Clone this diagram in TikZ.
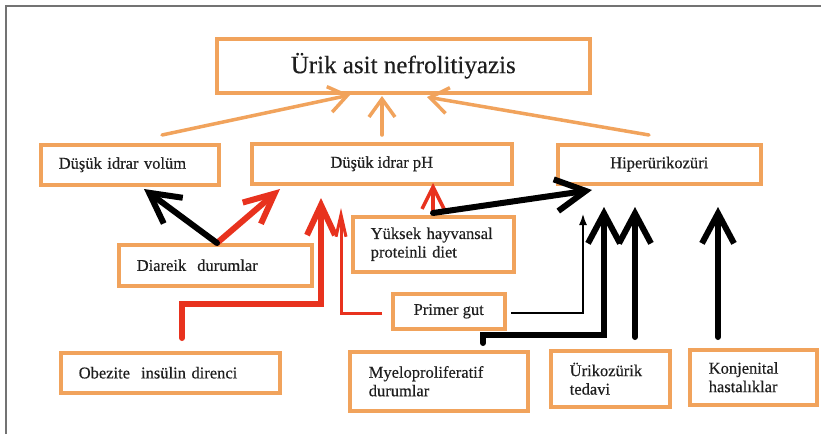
\documentclass[tikz,border=0pt]{standalone}
\usepackage{fontspec}
\setmainfont{Liberation Serif}[FakeBold=0.35]
\usetikzlibrary{arrows.meta}
\definecolor{boxorange}{RGB}{241,163,92}
\definecolor{flowred}{RGB}{232,50,30}
\definecolor{txt}{RGB}{30,30,30}
\definecolor{framegray}{RGB}{115,115,115}

\begin{document}
\begin{tikzpicture}[x=1pt,y=-1pt,
  box/.style={draw=boxorange, line width=3.5pt, fill=white, inner ysep=0pt,
    anchor=north west, text=txt, font=\fontsize{16.5}{18.5}\selectfont},
  cbox/.style={box, inner xsep=0pt, align=center},
  lbox/.style={box, inner xsep=18pt, align=left},
  oarrow/.style={draw=boxorange, line width=3.5pt, line cap=round,
    -{Straight Barb[length=18pt,width=26pt]}},
  barrow/.style={draw=black, line width=6pt, line cap=round, line join=miter,
    -{Straight Barb[length=30pt,width=32pt]}},
  rarrow/.style={draw=flowred, line width=6pt, line cap=round, line join=miter,
    -{Straight Barb[length=30pt,width=28pt]}},
  rthin/.style={draw=flowred, line width=3.5pt, line join=miter,
    -{Straight Barb[length=22pt,width=22pt]}},
  bthin/.style={draw=black, line width=2.5pt, line join=miter,
    -{Latex[length=12pt,width=8pt]}}]

\useasboundingbox (0,0) rectangle (821,434);
\fill[white] (0,0) rectangle (821,434);

% frame
\draw[framegray, line width=1.6pt] (6,434) -- (6,6) -- (821,6);

% boxes
\node[cbox, minimum width=373pt, minimum height=54pt,
      font=\fontsize{25}{28}\selectfont] (title) at (215,37) {Ürik asit nefrolitiyazis};

\node[lbox, text width=142pt, minimum height=40pt] (vol) at (39,143) {Düşük idrar volüm};
\node[cbox, minimum width=260pt, minimum height=40pt] (ph) at (250,142) {Düşük idrar pH};
\node[cbox, minimum width=203pt, minimum height=39pt] (hyp) at (556,143) {Hiperürikozüri};

\node[lbox, text width=157pt, minimum height=41pt] (dia) at (117,243) {Diareik\ \ durumlar};
\node[lbox, text width=125pt, minimum height=55pt] (yuk) at (351,215) {Yüksek hayvansal\\proteinli diet};
\node[cbox, minimum width=112pt, minimum height=35pt] (gut) at (391,292) {Primer gut};

\node[lbox, text width=183pt, minimum height=40pt] (obe) at (59,351) {Obezite\ \ insülin direnci};
\node[lbox, inner xsep=19pt, text width=140pt, minimum height=59pt] (mye) at (348,350) {Myeloproliferatif\\durumlar};
\node[lbox, inner xsep=19pt, text width=81pt, minimum height=56pt] (uri) at (549,349) {Ürikozürik\\tedavi};
\node[lbox, inner xsep=19pt, text width=89pt, minimum height=55pt] (kon) at (688,348) {Konjenital\\hastalıklar};

% connector points
\coordinate (oL) at (162,135); \coordinate (oLt) at (350,95);
\coordinate (oM) at (382,135); \coordinate (oMt) at (382,96);
\coordinate (oR) at (649,135); \coordinate (oRt) at (427,97);

\coordinate (diaSrc) at (217,243);
\coordinate (volTip) at (144,189);
\coordinate (phTipA) at (280,189);

\coordinate (obeSrc) at (182,338);
\coordinate (obeBend1) at (182,304);
\coordinate (obeBend2) at (321,304);
\coordinate (phTipB) at (321,198);

\coordinate (gutL) at (382,313);
\coordinate (gutLBend) at (341,313);
\coordinate (phTipC) at (341,208);

\coordinate (yukSrc) at (433,213);
\coordinate (phTipD) at (433,183);
\coordinate (hypTipA) at (592,190);

\coordinate (gutR) at (511,313);
\coordinate (gutRBend) at (583,313);
\coordinate (hypTipB) at (583,213);

\coordinate (myeSrc) at (483,343);
\coordinate (myeBend1) at (483,335);
\coordinate (myeBend2) at (604,335);
\coordinate (hypTipC) at (604,207);

\coordinate (uriSrc) at (635,337);
\coordinate (hypTipD) at (635,207);
\coordinate (konSrc) at (718,337);
\coordinate (hypTipE) at (718,207);

% orange arrows into the title
\draw[oarrow] (oL) -- (oLt);
\draw[oarrow] (oM) -- (oMt);
\draw[oarrow] (oR) -- (oRt);

% red arrows into pH
\draw[rarrow] (diaSrc) -- (phTipA);
\draw[rarrow] (obeSrc) -- (obeBend1) -- (obeBend2) -- (phTipB);
\draw[draw=flowred, line width=3pt, line join=miter,
      -{Straight Barb[length=22pt,width=10pt]}] (gutL) -- (gutLBend) -- (phTipC);
\draw[rthin] (yukSrc) -- (phTipD);

% black arrows
\draw[barrow] (diaSrc) -- (volTip);
\draw[barrow] (yukSrc) -- (hypTipA);
\draw[bthin] (gutR) -- (gutRBend) -- (hypTipB);
\draw[barrow] (myeSrc) -- (myeBend1) -- (myeBend2) -- (hypTipC);
\draw[barrow] (uriSrc) -- (hypTipD);
\draw[barrow] (konSrc) -- (hypTipE);
\end{tikzpicture}
\end{document}
